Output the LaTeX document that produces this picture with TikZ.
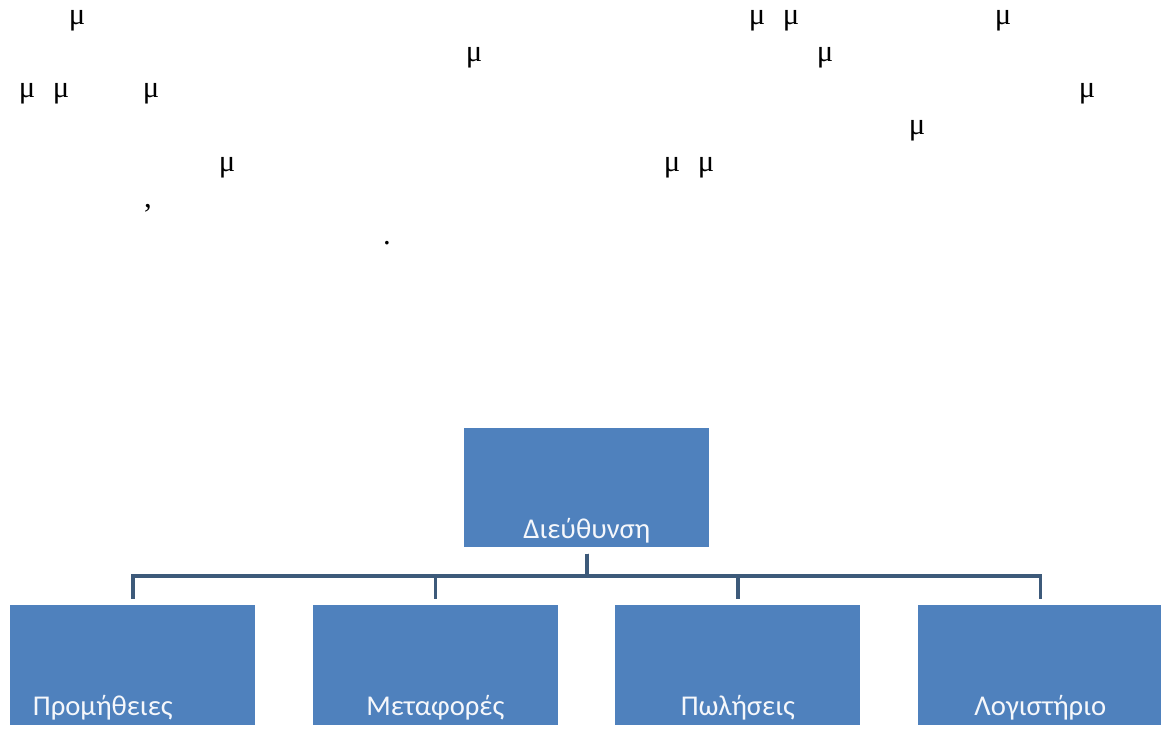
\documentclass[tikz,border=0pt]{standalone}
\usepackage{fontspec}
\setmainfont{Liberation Serif}
\newfontfamily\unitfont{Carlito}
\usetikzlibrary{positioning}
\definecolor{unitblue}{HTML}{4F81BD}
\definecolor{linkgray}{HTML}{3D5A7A}

\begin{document}
\begin{tikzpicture}[x=0.75pt,y=-0.75pt,
    unit/.style={fill=unitblue, inner xsep=0pt, inner ysep=0pt, text width=183.75pt, align=center,
        text height=82.5pt, text depth=7.5pt, font=\unitfont\fontsize{21.5}{24}\selectfont, text=white!94!unitblue},
    link/.style={draw=linkgray, line width=2.6pt, shorten <=4.5pt, shorten >=4.5pt},
    stray/.style={anchor=base, inner sep=0pt, font=\fontsize{23}{26}\selectfont}]
    \useasboundingbox (0,0) rectangle (1161,730);

    % Stray letters left over from the text above
    \foreach \px/\py [count=\i] in {77/25,757/25,791/25,1003/25,474/62,825/62,27/98,61/98,151/98,1087/98,917/135,227/172,672/172,706/172} {
        \node[stray] (mu\i) at (\px,\py) {μ};
    }
    \node[stray] (comma) at (148,208) {,};
    \node[stray] (stop) at (387,245) {.};

    % Head of the chart
    \node[unit, anchor=north west, text depth=6.75pt] (head) at (464,428) {Διεύθυνση};

    % Departments
    \node[unit, anchor=north west, align=left, inner xsep=17pt, text width=149.75pt] (u1) at (10,605) {Προμήθειες};
    \node[unit, right=42.75pt of u1] (u2) {Μεταφορές};
    \node[unit, right=42.75pt of u2] (u3) {Πωλήσεις};
    \node[unit, right=42.75pt of u3] (u4) {Λογιστήριο};

    % Connectors
    \coordinate (bus) at (585,576);
    \foreach \u in {u1,u2,u3,u4} {
        \draw[link] (head.south) -- (head.south |- bus) -| (\u.north);
    }

\end{tikzpicture}
\end{document}
